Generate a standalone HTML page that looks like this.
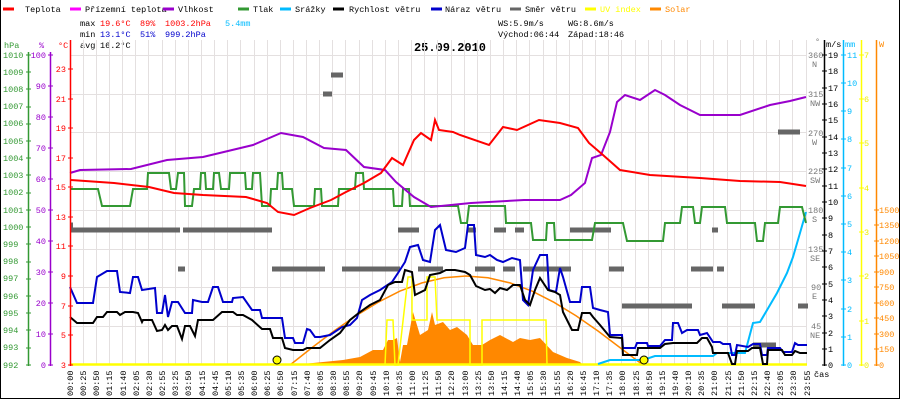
<!DOCTYPE html>
<html><head><meta charset="utf-8"><style>
html,body{margin:0;padding:0;background:#fff}
svg{display:block}
text{font-family:"Liberation Mono",monospace;font-size:8.5px}
</style></head><body>
<svg width="900" height="400" viewBox="0 0 900 400" xmlns="http://www.w3.org/2000/svg">
<rect x="0" y="0" width="900" height="400" fill="#fff"/>
<line x1="0.5" y1="0" x2="0.5" y2="399" stroke="#000"/>
<line x1="899.5" y1="0" x2="899.5" y2="399" stroke="#000"/>
<line x1="0" y1="398.5" x2="900" y2="398.5" stroke="#000"/>

<!-- legend -->
<g>
<line x1="3" y1="9" x2="14" y2="9" stroke="#f00" stroke-width="3"/><text x="25" y="12">Teplota</text>
<line x1="70" y1="9" x2="81" y2="9" stroke="#f0f" stroke-width="3"/><text x="85" y="12">Přízemní teplota</text>
<line x1="163" y1="9" x2="174" y2="9" stroke="#90c" stroke-width="3"/><text x="178" y="12">Vlhkost</text>
<line x1="238" y1="9" x2="249" y2="9" stroke="#393" stroke-width="3"/><text x="253" y="12">Tlak</text>
<line x1="280" y1="9" x2="291" y2="9" stroke="#0bf" stroke-width="3"/><text x="295" y="12">Srážky</text>
<line x1="333" y1="9" x2="344" y2="9" stroke="#000" stroke-width="3"/><text x="349" y="12">Rychlost větru</text>
<line x1="431" y1="9" x2="442" y2="9" stroke="#00c" stroke-width="3"/><text x="445" y="12">Náraz větru</text>
<line x1="510" y1="9" x2="521" y2="9" stroke="#666" stroke-width="3"/><text x="525" y="12">Směr větru</text>
<line x1="585" y1="9" x2="596" y2="9" stroke="#ff0" stroke-width="3"/><text x="600" y="12" fill="#ff0">UV index</text>
<line x1="650" y1="9" x2="661" y2="9" stroke="#f80" stroke-width="3"/><text x="665" y="12" fill="#f80">Solar</text>
</g>
<!-- stats -->
<text x="80" y="26">max</text><text x="100" y="26" fill="#f00">19.6°C</text><text x="140" y="26" fill="#f00">89%</text><text x="165" y="26" fill="#f00">1003.2hPa</text><text x="225" y="26" fill="#0bf">5.4mm</text>
<text x="80" y="37">min</text><text x="100" y="37" fill="#00c">13.1°C</text><text x="140" y="37" fill="#00c">51%</text><text x="165" y="37" fill="#00c">999.2hPa</text>
<text x="80" y="48">avg</text><text x="100" y="48">16.2°C</text>
<text x="498" y="26">WS:5.9m/s</text><text x="568" y="26">WG:8.6m/s</text>
<text x="498" y="37">Východ:06:44</text><text x="568" y="37">Západ:18:46</text>
<text x="450" y="51" text-anchor="middle" style="font-size:12px;font-weight:bold">25.09.2010</text>

<!-- grid -->
<g stroke="#e4e0e0" stroke-width="1">
<line x1="70" x2="807" y1="55.5" y2="55.5"/><line x1="70" x2="807" y1="94.5" y2="94.5"/><line x1="70" x2="807" y1="132.5" y2="132.5"/><line x1="70" x2="807" y1="171.5" y2="171.5"/><line x1="70" x2="807" y1="210.5" y2="210.5"/><line x1="70" x2="807" y1="249.5" y2="249.5"/><line x1="70" x2="807" y1="287.5" y2="287.5"/><line x1="70" x2="807" y1="326.5" y2="326.5"/>
</g>
<g id="vg" stroke="#e4e0e0">
<line x1="83.5" x2="83.5" y1="40" y2="365"/><line x1="96.5" x2="96.5" y1="40" y2="365"/><line x1="109.5" x2="109.5" y1="40" y2="365"/><line x1="122.5" x2="122.5" y1="40" y2="365"/><line x1="135.5" x2="135.5" y1="40" y2="365"/><line x1="148.5" x2="148.5" y1="40" y2="365"/><line x1="162.5" x2="162.5" y1="40" y2="365"/><line x1="175.5" x2="175.5" y1="40" y2="365"/><line x1="188.5" x2="188.5" y1="40" y2="365"/><line x1="201.5" x2="201.5" y1="40" y2="365"/><line x1="214.5" x2="214.5" y1="40" y2="365"/><line x1="227.5" x2="227.5" y1="40" y2="365"/><line x1="240.5" x2="240.5" y1="40" y2="365"/><line x1="254.5" x2="254.5" y1="40" y2="365"/><line x1="267.5" x2="267.5" y1="40" y2="365"/><line x1="280.5" x2="280.5" y1="40" y2="365"/><line x1="293.5" x2="293.5" y1="40" y2="365"/><line x1="306.5" x2="306.5" y1="40" y2="365"/><line x1="319.5" x2="319.5" y1="40" y2="365"/><line x1="332.5" x2="332.5" y1="40" y2="365"/><line x1="345.5" x2="345.5" y1="40" y2="365"/><line x1="359.5" x2="359.5" y1="40" y2="365"/><line x1="372.5" x2="372.5" y1="40" y2="365"/><line x1="385.5" x2="385.5" y1="40" y2="365"/><line x1="398.5" x2="398.5" y1="40" y2="365"/><line x1="411.5" x2="411.5" y1="40" y2="365"/><line x1="424.5" x2="424.5" y1="40" y2="365"/><line x1="437.5" x2="437.5" y1="40" y2="365"/><line x1="451.5" x2="451.5" y1="40" y2="365"/><line x1="464.5" x2="464.5" y1="40" y2="365"/><line x1="477.5" x2="477.5" y1="40" y2="365"/><line x1="490.5" x2="490.5" y1="40" y2="365"/><line x1="503.5" x2="503.5" y1="40" y2="365"/><line x1="516.5" x2="516.5" y1="40" y2="365"/><line x1="529.5" x2="529.5" y1="40" y2="365"/><line x1="543.5" x2="543.5" y1="40" y2="365"/><line x1="556.5" x2="556.5" y1="40" y2="365"/><line x1="569.5" x2="569.5" y1="40" y2="365"/><line x1="582.5" x2="582.5" y1="40" y2="365"/><line x1="595.5" x2="595.5" y1="40" y2="365"/><line x1="608.5" x2="608.5" y1="40" y2="365"/><line x1="621.5" x2="621.5" y1="40" y2="365"/><line x1="635.5" x2="635.5" y1="40" y2="365"/><line x1="648.5" x2="648.5" y1="40" y2="365"/><line x1="661.5" x2="661.5" y1="40" y2="365"/><line x1="674.5" x2="674.5" y1="40" y2="365"/><line x1="687.5" x2="687.5" y1="40" y2="365"/><line x1="700.5" x2="700.5" y1="40" y2="365"/><line x1="713.5" x2="713.5" y1="40" y2="365"/><line x1="727.5" x2="727.5" y1="40" y2="365"/><line x1="740.5" x2="740.5" y1="40" y2="365"/><line x1="753.5" x2="753.5" y1="40" y2="365"/><line x1="766.5" x2="766.5" y1="40" y2="365"/><line x1="779.5" x2="779.5" y1="40" y2="365"/><line x1="792.5" x2="792.5" y1="40" y2="365"/><line x1="806.5" x2="806.5" y1="40" y2="365"/>
</g>

<!-- solar area -->
<polygon fill="#f80" points="303,365 303,364 343,360 360,357 373,350 383,350 388,340 393,340 397,338 400,362 403,345 407,345 413,312 420,335 428,330 432,312 435,325 443,322 450,330 457,327 467,335 473,345 482,345 490,340 500,335 513,342 520,338 530,340 540,338 553,352 567,358 580,362 583,365"/>
<!-- solar theoretical -->
<polyline fill="none" stroke="#f80" stroke-width="1.5" points="290,365 312,347.6 334,331 356,315.7 378,302.3 400,291.1 422,282.9 444,277.8 466,276 488,277.8 510,282.9 532,291.1 554,302.3 576,315.7 598,331 620,347.6 643,365"/>
<!-- UV -->
<polyline fill="none" stroke="#ff0" stroke-width="1.5" points="385,365 387,320 393,320 395,365 398,365 408,277 412,277 412,320 427,320 427,277 435,277 437,320 470,320 470,365 482,365 482,320 546,320 547,365"/>
<line x1="70" y1="364.5" x2="807" y2="364.5" stroke="#ff0" stroke-width="2.5"/>
<!-- wind direction -->
<g stroke="#666" stroke-width="5">
<line x1="71" x2="180" y1="230" y2="230"/><line x1="183" x2="272" y1="230" y2="230"/><line x1="398" x2="419" y1="230" y2="230"/><line x1="467" x2="476" y1="230" y2="230"/><line x1="494" x2="506" y1="230" y2="230"/><line x1="515" x2="524" y1="230" y2="230"/><line x1="570" x2="611" y1="230" y2="230"/><line x1="712" x2="718" y1="230" y2="230"/>
<line x1="178" x2="185" y1="269" y2="269"/><line x1="272" x2="325" y1="269" y2="269"/><line x1="342" x2="400" y1="269" y2="269"/><line x1="418" x2="443" y1="269" y2="269"/><line x1="475" x2="495" y1="269" y2="269"/><line x1="503" x2="515" y1="269" y2="269"/><line x1="523" x2="571" y1="269" y2="269"/><line x1="609" x2="624" y1="269" y2="269"/><line x1="691" x2="713" y1="269" y2="269"/><line x1="717" x2="724" y1="269" y2="269"/>
<line x1="622" x2="692" y1="306" y2="306"/><line x1="722" x2="755" y1="306" y2="306"/><line x1="798" x2="808" y1="306" y2="306"/>
<line x1="753" x2="776" y1="345" y2="345"/>
<line x1="331" x2="343" y1="75" y2="75"/><line x1="323" x2="332" y1="94" y2="94"/><line x1="778" x2="800" y1="132" y2="132"/>
<line x1="71" x2="73" y1="225" y2="225"/>
</g>
<!-- rain -->
<polyline fill="none" stroke="#0bf" stroke-width="2" points="598,364 610,360 643,360 655,356 713,356 717,353 745,353 753,323 760,322 777,293 787,273 793,257 800,233 806,212"/>
<!-- pressure -->
<polyline fill="none" stroke="#393" stroke-width="2" points="70,189 98,189 102,206 130,206 133,189 147,189 148,173 169,173 171,189 176,189 178,173 184,173 185,206 192,206 194,189 200,189 201,173 205,173 206,189 213,189 214,173 219,173 221,189 229,189 230,173 245,173 246,189 252,189 253,173 260,173 262,206 270,206 271,189 277,189 278,173 282,173 283,189 292,189 294,206 314,206 315,189 321,189 322,206 338,206 339,189 355,189 356,173 363,173 364,189 393,189 394,206 402,206 403,189 409,189 410,206 458,206 461,223 467,223 469,206 505,206 506,223 531,223 533,240 546,240 547,223 554,223 555,240 592,240 595,223 623,223 627,241 663,241 665,223 680,223 682,207 693,207 695,223 700,223 702,207 725,207 727,223 755,223 757,241 763,241 765,223 778,223 780,207 802,207 806,223"/>
<!-- humidity -->
<polyline fill="none" stroke="#90c" stroke-width="2" points="70,173 80,170 131,169 167,160 203,157 253,145 281,133 303,137 324,148 346,150 364,167 385,170 396,182 414,197 431,207 471,203 524,200 560,200 571,195 585,183 592,158 601,155 610,132 617,102 625,95 640,100 655,90 665,95 680,105 700,115 740,115 770,105 790,101 806,97"/>
<!-- temperature -->
<polyline fill="none" stroke="#f00" stroke-width="2" points="71,180 114,183 149,187 174,193 203,195 246,197 267,203 278,212 294,215 310,208 331,200 346,192 364,183 381,173 392,158 403,165 414,140 421,133 431,140 435,120 439,130 453,132 460,135 489,145 503,127 517,130 539,120 560,123 578,128 589,143 603,155 620,170 650,175 700,178 740,181 780,182 806,186"/>
<!-- gust -->
<polyline fill="none" stroke="#00c" stroke-width="2" points="70,287 77,303 93,303 97,277 107,271 117,271 120,292 130,293 133,277 138,277 142,290 155,288 157,313 162,313 165,295 168,317 172,302 178,302 185,313 192,313 193,300 202,302 208,302 213,287 218,287 223,302 232,302 233,298 243,297 252,310 260,310 262,318 282,318 285,338 293,338 295,343 303,343 307,329 310,330 315,337 320,337 330,335 342,327 350,325 357,318 362,300 370,295 380,290 392,282 398,273 405,262 410,247 418,245 423,260 430,262 435,230 440,225 446,250 456,252 465,248 468,225 474,225 476,255 485,257 490,255 497,260 503,262 512,258 520,260 523,300 528,305 533,270 540,255 547,255 549,290 556,292 560,268 563,277 570,302 580,302 582,287 590,287 593,308 600,310 608,312 610,335 622,335 623,348 635,348 637,343 647,343 648,346 660,346 665,340 672,340 673,323 678,323 682,333 687,330 698,330 700,335 707,333 713,342 720,342 723,344 730,344 732,355 735,355 737,345 748,347 753,344 760,344 762,355 767,355 768,348 780,348 783,352 792,352 795,343 798,345 807,345"/>
<!-- wind -->
<polyline fill="none" stroke="#000" stroke-width="2" points="70,317 77,323 93,323 97,317 103,317 107,312 117,312 120,315 125,312 133,312 138,313 142,322 143,320 152,320 157,331 162,330 165,325 168,330 172,326 177,326 182,339 185,326 190,326 195,336 198,320 213,320 222,312 233,312 237,315 243,315 252,320 262,329 270,329 273,338 282,338 285,348 293,350 303,350 307,348 320,348 330,340 340,333 350,320 360,312 370,305 380,300 388,285 395,282 402,282 405,270 412,272 415,295 425,290 430,275 440,273 446,270 455,270 465,272 470,275 476,286 485,290 490,289 495,293 500,288 507,290 513,285 520,285 525,300 530,305 535,290 540,278 548,290 555,292 560,295 563,312 572,330 578,330 582,313 590,313 593,317 600,325 610,337 622,338 623,355 637,355 638,348 660,348 665,344 673,343 697,343 702,338 707,338 712,347 713,353 728,353 732,364 735,364 737,351 748,351 752,348 760,348 763,364 767,364 768,350 782,350 785,355 792,355 795,351 800,353 807,353"/>
<!-- sun markers -->
<circle cx="277" cy="360" r="4" fill="#ff0" stroke="#000"/>
<circle cx="644" cy="360" r="4" fill="#ff0" stroke="#000"/>

<!-- left axes -->
<line x1="28.5" y1="52" x2="28.5" y2="366" stroke="#393" stroke-width="1.5"/>
<line x1="50.5" y1="52" x2="50.5" y2="366" stroke="#90c" stroke-width="1.5"/>
<line x1="70.5" y1="40" x2="70.5" y2="366" stroke="#f00" stroke-width="1.5"/>
<text x="4" y="48" fill="#393">hPa</text><text x="39" y="48" fill="#90c">%</text><text x="58" y="48" fill="#f00">°C</text>
<g fill="#393" font-size="8.5"><text x="3" y="58">1010</text><text x="3" y="75">1009</text><text x="3" y="92">1008</text><text x="3" y="109">1007</text><text x="3" y="126">1006</text><text x="3" y="144">1005</text><text x="3" y="161">1004</text><text x="3" y="178">1003</text><text x="3" y="195">1002</text><text x="3" y="213">1001</text><text x="3" y="230">1000</text><text x="3" y="247">999</text><text x="3" y="264">998</text><text x="3" y="281">997</text><text x="3" y="299">996</text><text x="3" y="316">995</text><text x="3" y="333">994</text><text x="3" y="350">993</text><text x="3" y="368">992</text></g>
<g stroke="#393"><line x1="26" x2="31" y1="55" y2="55"/><line x1="26" x2="31" y1="72" y2="72"/><line x1="26" x2="31" y1="89" y2="89"/><line x1="26" x2="31" y1="107" y2="107"/><line x1="26" x2="31" y1="124" y2="124"/><line x1="26" x2="31" y1="141" y2="141"/><line x1="26" x2="31" y1="158" y2="158"/><line x1="26" x2="31" y1="175" y2="175"/><line x1="26" x2="31" y1="193" y2="193"/><line x1="26" x2="31" y1="210" y2="210"/><line x1="26" x2="31" y1="227" y2="227"/><line x1="26" x2="31" y1="244" y2="244"/><line x1="26" x2="31" y1="262" y2="262"/><line x1="26" x2="31" y1="279" y2="279"/><line x1="26" x2="31" y1="296" y2="296"/><line x1="26" x2="31" y1="313" y2="313"/><line x1="26" x2="31" y1="330" y2="330"/><line x1="26" x2="31" y1="348" y2="348"/><line x1="26" x2="31" y1="365" y2="365"/></g>
<g fill="#90c" text-anchor="end"><text x="46" y="58">100</text><text x="46" y="89">90</text><text x="46" y="120">80</text><text x="46" y="151">70</text><text x="46" y="182">60</text><text x="46" y="213">50</text><text x="46" y="244">40</text><text x="46" y="275">30</text><text x="46" y="306">20</text><text x="46" y="337">10</text><text x="46" y="368">0</text></g>
<g stroke="#90c"><line x1="48" x2="53" y1="55" y2="55"/><line x1="48" x2="53" y1="86" y2="86"/><line x1="48" x2="53" y1="117" y2="117"/><line x1="48" x2="53" y1="148" y2="148"/><line x1="48" x2="53" y1="179" y2="179"/><line x1="48" x2="53" y1="210" y2="210"/><line x1="48" x2="53" y1="241" y2="241"/><line x1="48" x2="53" y1="272" y2="272"/><line x1="48" x2="53" y1="303" y2="303"/><line x1="48" x2="53" y1="334" y2="334"/><line x1="48" x2="53" y1="365" y2="365"/></g>
<g fill="#f00" text-anchor="end"><text x="66" y="72">23</text><text x="66" y="102">21</text><text x="66" y="131">19</text><text x="66" y="161">17</text><text x="66" y="190">15</text><text x="66" y="220">13</text><text x="66" y="249">11</text><text x="66" y="279">9</text><text x="66" y="309">7</text><text x="66" y="338">5</text><text x="66" y="368">3</text></g>
<g stroke="#f00"><line x1="68" x2="73" y1="69" y2="69"/><line x1="68" x2="73" y1="99" y2="99"/><line x1="68" x2="73" y1="128" y2="128"/><line x1="68" x2="73" y1="158" y2="158"/><line x1="68" x2="73" y1="187" y2="187"/><line x1="68" x2="73" y1="217" y2="217"/><line x1="68" x2="73" y1="246" y2="246"/><line x1="68" x2="73" y1="276" y2="276"/><line x1="68" x2="73" y1="306" y2="306"/><line x1="68" x2="73" y1="335" y2="335"/><line x1="68" x2="73" y1="365" y2="365"/></g>

<!-- right axes -->
<g fill="#777" font-size="8"><text x="815" y="44">°</text>
<text x="808" y="58">360</text><text x="812" y="67">N</text>
<text x="808" y="97">315</text><text x="810" y="106">NW</text>
<text x="808" y="136">270</text><text x="812" y="145">W</text>
<text x="808" y="174">225</text><text x="810" y="183">SW</text>
<text x="808" y="213">180</text><text x="812" y="222">S</text>
<text x="808" y="252">135</text><text x="810" y="261">SE</text>
<text x="811" y="290">90</text><text x="812" y="299">E</text>
<text x="811" y="329">45</text><text x="810" y="338">NE</text></g>
<line x1="824.5" y1="40" x2="824.5" y2="366" stroke="#000" stroke-width="1.5"/>
<line x1="843.5" y1="40" x2="843.5" y2="366" stroke="#0bf" stroke-width="1.5"/>
<line x1="861.5" y1="40" x2="861.5" y2="366" stroke="#ff0" stroke-width="1.5"/>
<line x1="876.5" y1="40" x2="876.5" y2="366" stroke="#f80" stroke-width="1.5"/>
<text x="826" y="47">m/s</text><text x="845" y="47" fill="#0bf">mm</text><text x="879" y="47" fill="#f80">W</text>
<g><text x="828" y="58">19</text><text x="828" y="74">18</text><text x="828" y="91">17</text><text x="828" y="107">16</text><text x="828" y="123">15</text><text x="828" y="140">14</text><text x="828" y="156">13</text><text x="828" y="172">12</text><text x="828" y="189">11</text><text x="828" y="205">10</text><text x="828" y="221">9</text><text x="828" y="238">8</text><text x="828" y="254">7</text><text x="828" y="270">6</text><text x="828" y="287">5</text><text x="828" y="303">4</text><text x="828" y="319">3</text><text x="828" y="336">2</text><text x="828" y="352">1</text><text x="828" y="368">0</text></g>
<g stroke="#000"><line x1="822" x2="827" y1="55" y2="55"/><line x1="822" x2="827" y1="71" y2="71"/><line x1="822" x2="827" y1="88" y2="88"/><line x1="822" x2="827" y1="104" y2="104"/><line x1="822" x2="827" y1="120" y2="120"/><line x1="822" x2="827" y1="137" y2="137"/><line x1="822" x2="827" y1="153" y2="153"/><line x1="822" x2="827" y1="169" y2="169"/><line x1="822" x2="827" y1="186" y2="186"/><line x1="822" x2="827" y1="202" y2="202"/><line x1="822" x2="827" y1="218" y2="218"/><line x1="822" x2="827" y1="235" y2="235"/><line x1="822" x2="827" y1="251" y2="251"/><line x1="822" x2="827" y1="267" y2="267"/><line x1="822" x2="827" y1="284" y2="284"/><line x1="822" x2="827" y1="300" y2="300"/><line x1="822" x2="827" y1="316" y2="316"/><line x1="822" x2="827" y1="333" y2="333"/><line x1="822" x2="827" y1="349" y2="349"/><line x1="822" x2="827" y1="365" y2="365"/></g>
<g fill="#0bf"><text x="847" y="58">11</text><text x="847" y="86">10</text><text x="847" y="114">9</text><text x="847" y="142">8</text><text x="847" y="171">7</text><text x="847" y="199">6</text><text x="847" y="227">5</text><text x="847" y="255">4</text><text x="847" y="283">3</text><text x="847" y="312">2</text><text x="847" y="340">1</text><text x="847" y="368">0</text></g>
<g stroke="#0bf"><line x1="841" x2="846" y1="55" y2="55"/><line x1="841" x2="846" y1="83" y2="83"/><line x1="841" x2="846" y1="111" y2="111"/><line x1="841" x2="846" y1="139" y2="139"/><line x1="841" x2="846" y1="168" y2="168"/><line x1="841" x2="846" y1="196" y2="196"/><line x1="841" x2="846" y1="224" y2="224"/><line x1="841" x2="846" y1="252" y2="252"/><line x1="841" x2="846" y1="280" y2="280"/><line x1="841" x2="846" y1="309" y2="309"/><line x1="841" x2="846" y1="337" y2="337"/><line x1="841" x2="846" y1="365" y2="365"/></g>
<g fill="#ee0"><text x="864" y="58">7</text><text x="864" y="102">6</text><text x="864" y="146">5</text><text x="864" y="191">4</text><text x="864" y="235">3</text><text x="864" y="279">2</text><text x="864" y="324">1</text><text x="864" y="368">0</text></g>
<g stroke="#ff0"><line x1="859" x2="864" y1="55" y2="55"/><line x1="859" x2="864" y1="99" y2="99"/><line x1="859" x2="864" y1="143" y2="143"/><line x1="859" x2="864" y1="188" y2="188"/><line x1="859" x2="864" y1="232" y2="232"/><line x1="859" x2="864" y1="276" y2="276"/><line x1="859" x2="864" y1="321" y2="321"/><line x1="859" x2="864" y1="365" y2="365"/></g>
<g fill="#f80"><text x="879" y="213">1500</text><text x="879" y="228">1350</text><text x="879" y="244">1200</text><text x="879" y="259">1050</text><text x="879" y="275">900</text><text x="879" y="290">750</text><text x="879" y="306">600</text><text x="879" y="321">450</text><text x="879" y="337">300</text><text x="879" y="352">150</text><text x="879" y="368">0</text></g>
<g stroke="#f80"><line x1="874" x2="879" y1="210" y2="210"/><line x1="874" x2="879" y1="225" y2="225"/><line x1="874" x2="879" y1="241" y2="241"/><line x1="874" x2="879" y1="256" y2="256"/><line x1="874" x2="879" y1="272" y2="272"/><line x1="874" x2="879" y1="287" y2="287"/><line x1="874" x2="879" y1="303" y2="303"/><line x1="874" x2="879" y1="318" y2="318"/><line x1="874" x2="879" y1="334" y2="334"/><line x1="874" x2="879" y1="349" y2="349"/><line x1="874" x2="879" y1="365" y2="365"/></g>
<text x="814" y="377">čas</text>

<!-- x labels -->
<g font-size="8">
<text transform="translate(73,396) rotate(-90)">00:00</text><text transform="translate(86,396) rotate(-90)">00:25</text><text transform="translate(99,396) rotate(-90)">00:50</text><text transform="translate(112,396) rotate(-90)">01:15</text><text transform="translate(126,396) rotate(-90)">01:40</text><text transform="translate(139,396) rotate(-90)">02:05</text><text transform="translate(152,396) rotate(-90)">02:30</text><text transform="translate(165,396) rotate(-90)">02:55</text><text transform="translate(178,396) rotate(-90)">03:25</text><text transform="translate(191,396) rotate(-90)">03:50</text><text transform="translate(205,396) rotate(-90)">04:15</text><text transform="translate(218,396) rotate(-90)">04:45</text><text transform="translate(231,396) rotate(-90)">05:10</text><text transform="translate(244,396) rotate(-90)">05:35</text><text transform="translate(257,396) rotate(-90)">06:00</text><text transform="translate(270,396) rotate(-90)">06:25</text><text transform="translate(283,396) rotate(-90)">06:50</text><text transform="translate(297,396) rotate(-90)">07:15</text><text transform="translate(310,396) rotate(-90)">07:40</text><text transform="translate(323,396) rotate(-90)">08:05</text><text transform="translate(336,396) rotate(-90)">08:30</text><text transform="translate(349,396) rotate(-90)">08:55</text><text transform="translate(362,396) rotate(-90)">09:20</text><text transform="translate(376,396) rotate(-90)">09:45</text><text transform="translate(389,396) rotate(-90)">10:10</text><text transform="translate(402,396) rotate(-90)">10:35</text><text transform="translate(415,396) rotate(-90)">11:00</text><text transform="translate(428,396) rotate(-90)">11:25</text><text transform="translate(441,396) rotate(-90)">11:50</text><text transform="translate(454,396) rotate(-90)">12:20</text><text transform="translate(468,396) rotate(-90)">13:00</text><text transform="translate(481,396) rotate(-90)">13:25</text><text transform="translate(494,396) rotate(-90)">13:50</text><text transform="translate(507,396) rotate(-90)">14:15</text><text transform="translate(520,396) rotate(-90)">14:40</text><text transform="translate(533,396) rotate(-90)">15:05</text><text transform="translate(546,396) rotate(-90)">15:30</text><text transform="translate(560,396) rotate(-90)">15:55</text><text transform="translate(573,396) rotate(-90)">16:20</text><text transform="translate(586,396) rotate(-90)">16:45</text><text transform="translate(599,396) rotate(-90)">17:10</text><text transform="translate(612,396) rotate(-90)">17:35</text><text transform="translate(625,396) rotate(-90)">18:00</text><text transform="translate(639,396) rotate(-90)">18:25</text><text transform="translate(652,396) rotate(-90)">18:50</text><text transform="translate(665,396) rotate(-90)">19:15</text><text transform="translate(678,396) rotate(-90)">19:40</text><text transform="translate(691,396) rotate(-90)">20:10</text><text transform="translate(704,396) rotate(-90)">20:35</text><text transform="translate(717,396) rotate(-90)">21:00</text><text transform="translate(731,396) rotate(-90)">21:25</text><text transform="translate(744,396) rotate(-90)">21:50</text><text transform="translate(757,396) rotate(-90)">22:15</text><text transform="translate(770,396) rotate(-90)">22:40</text><text transform="translate(783,396) rotate(-90)">23:05</text><text transform="translate(796,396) rotate(-90)">23:30</text><text transform="translate(810,396) rotate(-90)">23:55</text>
</g>
</svg>
</body></html>
